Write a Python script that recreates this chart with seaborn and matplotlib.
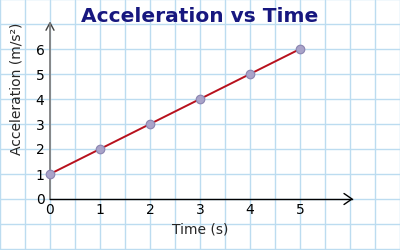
import matplotlib
matplotlib.use("Agg")
import matplotlib.pyplot as plt
import seaborn as sns
import numpy as np
import pandas as pd

# Data
time_s = [0, 1, 2, 3, 4, 5]
accel = [1, 2, 3, 4, 5, 6]
x_ticks = [0, 1, 2, 3, 4, 5]
y_ticks = [0, 1, 2, 3, 4, 5, 6]
title = "Acceleration vs Time"
xlabel = "Time (s)"
ylabel = "Acceleration (m/s²)"

df = pd.DataFrame({"t": time_s, "a": accel})

sns.set_style("white")
plt.rcParams["font.family"] = ["DejaVu Sans"]

W, H = 400, 250
fig = plt.figure(figsize=(4, 2.5), dpi=100)
fig.patch.set_facecolor("white")

# Background graph-paper grid across the whole figure
bg = fig.add_axes([0, 0, 1, 1])
bg.set_xlim(0, W)
bg.set_ylim(H, 0)
for gx in np.arange(0, W + 1, 25):
    bg.axvline(gx, color="#bcdcf0", lw=1.0, zorder=0)
for gy in np.arange(-1, H + 1, 25):
    bg.axhline(gy, color="#bcdcf0", lw=1.0, zorder=0)
bg.axis("off")

# Data axes: x 0..6 -> px 50..350, y 0..7 -> px 199..24
ax = fig.add_axes([50 / W, (H - 199) / H, 300 / W, 175 / H])
ax.set_facecolor("none")
ax.set_xlim(0, 6)
ax.set_ylim(0, 7)

sns.lineplot(data=df, x="t", y="a", ax=ax, color="#b8101c", lw=1.4,
             marker="o", markersize=6.2, markerfacecolor="#a9a3c9",
             markeredgecolor="#8a84b0", markeredgewidth=0.8, clip_on=False, zorder=5)

for s in ["top", "right"]:
    ax.spines[s].set_visible(False)
ax.spines["left"].set_color("#808080")
ax.spines["left"].set_linewidth(1.3)
ax.spines["bottom"].set_color("black")
ax.spines["bottom"].set_linewidth(1.0)
ax.spines["bottom"].set_bounds(0, 6.04)

# arrow heads
ax.plot([5.88, 6.04, 5.88], [0.22, 0, -0.22], color="black", lw=1.0, clip_on=False)
ax.plot([-0.08, 0, 0.08], [6.75, 7.05, 6.75], color="#404040", lw=1.0, clip_on=False)

ax.set_xticks(x_ticks)
ax.set_yticks(y_ticks)
ax.set_xticklabels([str(v) for v in x_ticks])
ax.set_yticklabels([str(v) for v in y_ticks])
ax.tick_params(axis="both", length=0, labelsize=10, colors="black")
ax.tick_params(axis="x", pad=3)
ax.tick_params(axis="y", pad=4)

ax.set_xlabel(xlabel, fontsize=10, labelpad=4)
ax.set_ylabel(ylabel, fontsize=10, labelpad=8)
ax.yaxis.set_label_coords(-0.088, 0.63)

fig.text(0.5, 1 - 16 / H, title, ha="center", va="center",
         fontsize=14.5, fontweight="bold", color="#17177f")

fig.savefig("out.png", dpi=100)
